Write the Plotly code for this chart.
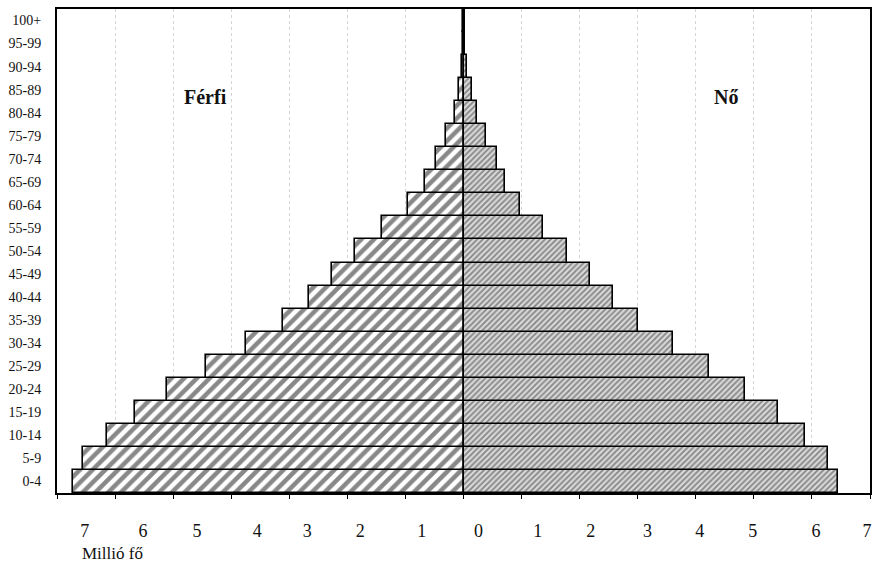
import plotly.graph_objects as go

# age groups, bottom to top
age_groups = ["0-4", "5-9", "10-14", "15-19", "20-24", "25-29", "30-34", "35-39",
              "40-44", "45-49", "50-54", "55-59", "60-64", "65-69", "70-74",
              "75-79", "80-84", "85-89", "90-94", "95-99", "100+"]

# million persons
male = [6.72, 6.55, 6.14, 5.66, 5.10, 4.43, 3.74, 3.10, 2.66, 2.26, 1.86,
        1.40, 0.95, 0.66, 0.48, 0.30, 0.15, 0.07, 0.03, 0.015, 0.005]
female = [6.45, 6.28, 5.88, 5.41, 4.84, 4.22, 3.60, 3.01, 2.57, 2.17, 1.79,
          1.37, 0.97, 0.71, 0.58, 0.39, 0.24, 0.14, 0.06, 0.03, 0.01]

# x tick labels (printed slightly off their tick marks in the source)
tick_text = ["7", "6", "5", "4", "3", "2", "1", "0", "1", "2", "3", "4", "5", "6", "7"]
tick_pos = [-6.52, -5.52, -4.59, -3.55, -2.69, -1.78, -0.72, 0.26,
            1.28, 2.19, 3.17, 4.07, 4.98, 6.07, 6.95]

SERIF = "Liberation Serif, Times New Roman, serif"

fig = go.Figure()
fig.add_trace(go.Bar(
    y=age_groups,
    x=[-v for v in male],
    orientation="h",
    name="Férfi",
    marker=dict(
        color="white",
        line=dict(color="black", width=1.6),
        pattern=dict(shape="/", fgcolor="#111111", bgcolor="white", size=9, solidity=0.5),
    ),
))
fig.add_trace(go.Bar(
    y=age_groups,
    x=female,
    orientation="h",
    name="Nő",
    marker=dict(
        color="#d0d0d0",
        line=dict(color="black", width=1.6),
        pattern=dict(shape="/", fgcolor="#333333", bgcolor="#d8d8d8", size=4, solidity=0.45),
    ),
))

fig.add_annotation(x=-4.45, y=16.67, xref="x", yref="y", text="<b>Férfi</b>",
                   showarrow=False, font=dict(family=SERIF, size=20, color="#111"))
fig.add_annotation(x=4.52, y=16.67, xref="x", yref="y", text="<b>Nő</b>",
                   showarrow=False, font=dict(family=SERIF, size=20, color="#111"))
fig.add_annotation(x=0, y=0, xref="paper", yref="paper", yshift=-60, xshift=23,
                   text="Millió fő", showarrow=False, xanchor="left", yanchor="middle",
                   font=dict(family=SERIF, size=17, color="#111"))

fig.update_layout(
    width=872,
    height=562,
    margin=dict(l=57, r=2, t=9, b=69),
    barmode="relative",
    bargap=0,
    showlegend=False,
    paper_bgcolor="white",
    plot_bgcolor="white",
    font=dict(family=SERIF, color="#111"),
)
fig.update_xaxes(
    range=[-7, 7],
    automargin=False,
    tickmode="array",
    tickvals=tick_pos,
    ticktext=tick_text,
    ticks="",
    ticklabelstandoff=20,
    tickfont=dict(size=18),
    showgrid=False,
    minor=dict(tickmode="linear", tick0=0, dtick=1, ticks="outside", ticklen=4,
               tickcolor="black", tickwidth=1.2,
               showgrid=True, gridcolor="#d4d4d4", griddash="dot", gridwidth=1),
    zeroline=True, zerolinecolor="black", zerolinewidth=1.5,
    showline=True, linecolor="black", linewidth=2, mirror=True,
)
fig.update_yaxes(
    range=[-0.5, 20.5],
    automargin=False,
    ticks="",
    ticklabelstandoff=11,
    tickfont=dict(size=14),
    showgrid=False,
    showline=True, linecolor="black", linewidth=2, mirror=True,
)

# drop the default body margin so the figure fills the window exactly
fig.write_html("out.html", config={"displayModeBar": False},
               post_script="document.body.style.margin='0';")
